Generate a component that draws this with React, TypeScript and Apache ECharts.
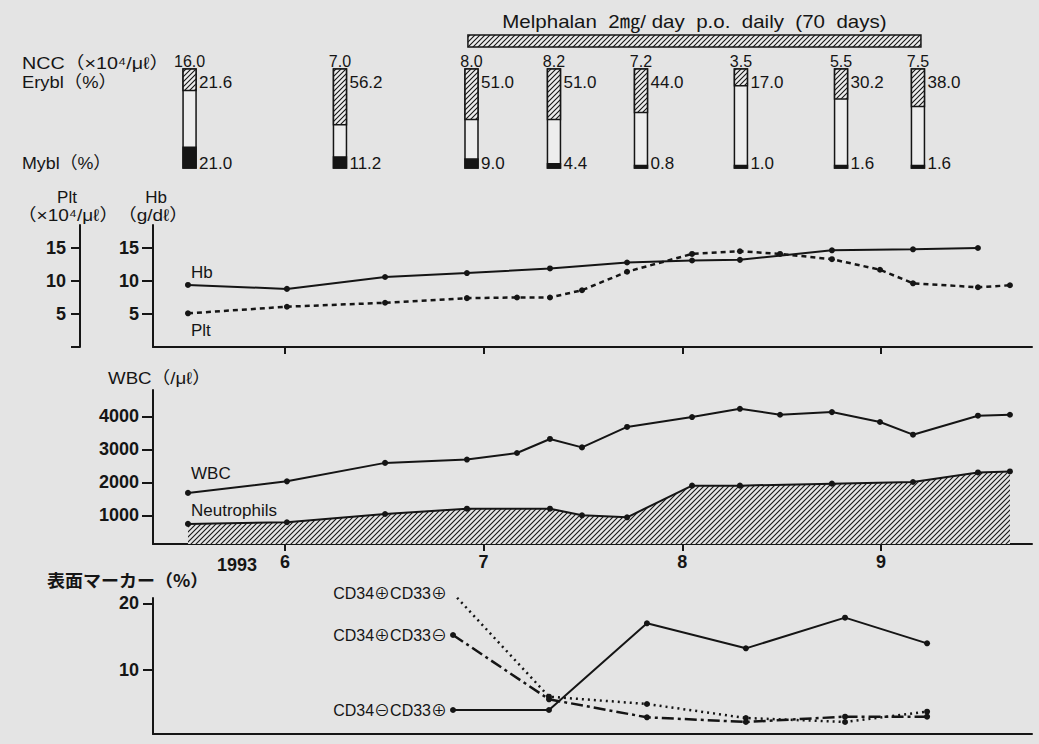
import { useEffect, useRef } from "react";
import * as echarts from "echarts";

// ---- data (x positions in fractional months of 1993) ----
const visitMonths = [5.512, 6.01, 6.504, 6.916, 7.168, 7.334, 7.495, 7.722, 8.049, 8.29, 8.492, 8.753, 8.995, 9.161, 9.488, 9.649];
const hb = [9.4, 8.8, 10.6, 11.2, null, 11.9, null, 12.8, 13.1, 13.2, null, 14.65, null, 14.8, 15.0, null];
const plt = [5.1, 6.1, 6.7, 7.4, 7.5, 7.5, 8.6, 11.4, 14.1, 14.5, 14.1, 13.3, 11.7, 9.65, 9.05, 9.35];
const wbc = [1680, 2030, 2590, 2690, 2890, 3315, 3060, 3680, 3980, 4230, 4050, 4130, 3830, 3445, 4020, 4050];
const neutrophils = [740, 790, 1040, 1200, null, 1200, 1000, 940, 1900, 1900, null, 1960, null, 2010, 2300, 2330];

const marrowMonths = [5.52, 6.277, 6.939, 7.354, 7.792, 8.295, 8.799, 9.186];
const ncc = [16.0, 7.0, 8.0, 8.2, 7.2, 3.5, 5.5, 7.5];
const erybl = [21.6, 56.2, 51.0, 51.0, 44.0, 17.0, 30.2, 38.0];
const mybl = [21.0, 11.2, 9.0, 4.4, 0.8, 1.0, 1.6, 1.6];

const markerMonths = [6.846, 7.329, 7.822, 8.32, 8.819, 9.232];
const cd34pCd33p = [21.5, 6.0, 4.9, 2.8, 2.2, 3.75];
const cd34pCd33n = [15.25, 5.6, 2.9, 2.2, 3.0, 3.0];
const cd34nCd33p = [4.0, 4.0, 17.0, 13.25, 17.85, 14.0];

const melphalanStart = 6.921;
const melphalanEnd = 9.201;
const melphalanLabel = "Melphalan  2㎎/ day  p.o.  daily  (70  days)";

const monthTicks = [6, 7, 8, 9];
const hbTicks = [5, 10, 15];
const pltTicks = [0, 5, 10, 15];
const wbcTicks = [1000, 2000, 3000, 4000];
const markerTicks = [10, 20];

const X_MIN = 5.336;
const X_MAX = 9.76;
const INK = "#151515";
const BG = "#e4e4e4";
const FONT = "'Liberation Sans', Arial, 'Noto Sans CJK JP', sans-serif";

function makeHatch(bg: string, size: number, lw: number) {
  const c = document.createElement("canvas");
  c.width = size;
  c.height = size;
  const ctx = c.getContext("2d")!;
  ctx.fillStyle = bg;
  ctx.fillRect(0, 0, size, size);
  ctx.strokeStyle = INK;
  ctx.lineWidth = lw;
  ctx.beginPath();
  ctx.moveTo(-1, size + 1);
  ctx.lineTo(size + 1, -1);
  ctx.moveTo(-size / 2 - 1, size / 2 + 1);
  ctx.lineTo(size / 2 + 1, -size / 2 - 1);
  ctx.moveTo(size / 2 - 1, size * 1.5 + 1);
  ctx.lineTo(size * 1.5 + 1, size / 2 - 1);
  ctx.stroke();
  return { image: c, repeat: "repeat", imageWidth: size, imageHeight: size } as any;
}

function pairs(xs: number[], ys: (number | null)[]) {
  const out: number[][] = [];
  xs.forEach((x, i) => {
    const v = ys[i];
    if (v != null) out.push([x, v]);
  });
  return out;
}

export default function App() {
  const ref = useRef<HTMLDivElement>(null);
  useEffect(() => {
    if (!ref.current) return;
    const chart = echarts.init(ref.current, undefined, { renderer: "svg" });
    const hatchBar = makeHatch("#ececec", 5, 1.1);
    const hatchArea = makeHatch(BG, 5, 1.1);

    const gridBase = { left: 153, right: 7 };
    const hiddenX = (gi: number) => ({ type: "value", gridIndex: gi, min: X_MIN, max: X_MAX, show: false });
    const lineX = (gi: number, ticks: boolean, labels: boolean) => ({
      type: "value",
      gridIndex: gi,
      min: X_MIN,
      max: X_MAX,
      axisLine: { show: true, onZero: false, lineStyle: { color: INK, width: 2 } },
      axisTick: { show: ticks, customValues: monthTicks, length: 7, lineStyle: { color: INK, width: 2 } },
      axisLabel: {
        show: labels,
        customValues: monthTicks,
        formatter: (v: number) => String(Math.round(v)),
        fontSize: 18,
        fontWeight: "bold",
        fontFamily: FONT,
        color: INK,
        margin: 9,
      },
      splitLine: { show: false },
    });
    const yAx = (gi: number, min: number, max: number, ticks: number[], labels: number[], offset = 0, tickLen = 11) => ({
      type: "value",
      gridIndex: gi,
      min,
      max,
      position: "left",
      offset,
      axisLine: { show: true, onZero: false, lineStyle: { color: INK, width: 2 } },
      axisTick: { show: true, customValues: ticks, length: tickLen, lineStyle: { color: INK, width: 2 } },
      axisLabel: {
        customValues: labels,
        formatter: (v: number) => String(v),
        fontSize: 18,
        fontWeight: "bold",
        fontFamily: FONT,
        color: INK,
        margin: 14,
      },
      splitLine: { show: false },
    });

    const txt = (text: string, x: number, y: number, size = 17, align = "left", sx = 1, extra: any = {}) => ({
      type: "text",
      x,
      y,
      scaleX: sx,
      style: { text, x: 0, y: 0, fontSize: size, fontFamily: FONT, fill: INK, align, verticalAlign: "middle", ...extra },
    });

    const dotLine = (name: string, data: number[][], xi: number, yi: number, type: any, width = 2, size = 6) => ({
      name,
      type: "line",
      xAxisIndex: xi,
      yAxisIndex: yi,
      data,
      symbol: "circle",
      symbolSize: size,
      itemStyle: { color: INK },
      lineStyle: { color: INK, width, type },
      z: 3,
    });

    chart.setOption({
      animation: false,
      backgroundColor: BG,
      grid: [
        { ...gridBase, top: 35, height: 12 },
        { ...gridBase, top: 69, height: 99 },
        { ...gridBase, top: 225, height: 122 },
        { ...gridBase, top: 390, height: 154 },
        { ...gridBase, top: 598, height: 136 },
      ],
      xAxis: [hiddenX(0), hiddenX(1), lineX(2, true, false), lineX(3, true, true), lineX(4, false, false)],
      yAxis: [
        { type: "value", gridIndex: 0, min: 0, max: 1, show: false },
        { type: "value", gridIndex: 1, min: 0, max: 100, show: false },
        yAx(2, 0, 18.48, hbTicks, hbTicks),
        yAx(2, 0, 18.48, pltTicks, hbTicks, 73, 9),
        yAx(3, 130, 4800, wbcTicks, wbcTicks),
        yAx(4, 0.4, 20.8, markerTicks, markerTicks, 0, 10),
      ],
      graphic: [
        txt("NCC（×10⁴/μℓ）", 22, 63, 17, "left", 1.16),
        txt("Erybl（%）", 22, 82, 17, "left", 1.08),
        txt("Mybl（%）", 22, 163, 17, "left", 1.05),
        txt("Plt", 67, 197, 17, "center"),
        txt("（×10⁴/μℓ）", 68, 215, 17, "center", 1.12),
        txt("Hb", 156, 197, 17, "center"),
        txt("（g/dℓ）", 153, 215, 17, "center", 1.12),
        txt("Hb", 191, 272, 17),
        txt("Plt", 191, 330, 17),
        txt("WBC（/μℓ）", 108, 378, 17, "left", 1.1),
        txt("WBC", 191, 473, 17),
        txt("Neutrophils", 191, 510, 17),
        txt("1993", 217, 565, 18, "left", 1, { fontWeight: "bold" }),
        txt("表面マーカー（%）", 47, 580, 17, "left", 1.06, { fontFamily: "'Noto Sans CJK JP', sans-serif", fontWeight: "bold" }),
        txt("CD34⊕CD33⊕", 447, 593, 16, "right"),
        txt("CD34⊕CD33⊖", 447, 635, 16, "right"),
        txt("CD34⊖CD33⊕", 447, 710, 16, "right"),
      ],
      series: [
        {
          type: "custom",
          xAxisIndex: 0,
          yAxisIndex: 0,
          data: [[melphalanStart, melphalanEnd]],
          renderItem: (_p: any, api: any) => {
            const a = api.coord([api.value(0), 1]);
            const b = api.coord([api.value(1), 0]);
            return {
              type: "group",
              children: [
                {
                  type: "rect",
                  shape: { x: a[0], y: a[1], width: b[0] - a[0], height: b[1] - a[1] },
                  style: { fill: hatchBar, stroke: INK, lineWidth: 1.5 },
                },
                {
                  type: "text",
                  x: (a[0] + b[0]) / 2,
                  y: a[1] - 4,
                  scaleX: 1.14,
                  style: {
                    text: melphalanLabel,
                    x: 0,
                    y: 0,
                    align: "center",
                    verticalAlign: "bottom",
                    fontSize: 18,
                    fontFamily: FONT,
                    fill: INK,
                  },
                },
              ],
            };
          },
        },
        {
          type: "custom",
          xAxisIndex: 1,
          yAxisIndex: 1,
          data: marrowMonths.map((m, i) => [m, ncc[i], erybl[i], mybl[i]]),
          renderItem: (_p: any, api: any) => {
            const x = api.value(0);
            const n = api.value(1);
            const e = api.value(2);
            const m = api.value(3);
            const top = api.coord([x, 100]);
            const bot = api.coord([x, 0]);
            const w = 13;
            const cx = top[0];
            const l = cx - w / 2;
            const h = bot[1] - top[1];
            const eh = (h * e) / 100;
            const mh = Math.max((h * m) / 100, 2.5);
            const f = { fontFamily: FONT, fill: INK };
            return {
              type: "group",
              children: [
                { type: "rect", shape: { x: l, y: top[1], width: w, height: h }, style: { fill: "#ededed", stroke: INK, lineWidth: 1.5 } },
                { type: "rect", shape: { x: l, y: top[1], width: w, height: eh }, style: { fill: hatchBar, stroke: INK, lineWidth: 1.5 } },
                { type: "rect", shape: { x: l, y: bot[1] - mh, width: w, height: mh }, style: { fill: INK, stroke: INK, lineWidth: 1.5 } },
                { type: "text", style: { text: n.toFixed(1), x: cx, y: top[1] - 8, align: "center", verticalAlign: "middle", fontSize: 16, ...f } },
                { type: "text", style: { text: e.toFixed(1), x: l + w + 3, y: top[1] + 13, align: "left", verticalAlign: "middle", fontSize: 17, ...f } },
                { type: "text", style: { text: m.toFixed(1), x: l + w + 3, y: bot[1] - 5, align: "left", verticalAlign: "middle", fontSize: 17, ...f } },
              ],
            };
          },
        },
        dotLine("Hb", pairs(visitMonths, hb), 2, 2, "solid", 2),
        dotLine("Plt", pairs(visitMonths, plt), 2, 3, [5, 4], 2.5),
        dotLine("WBC", pairs(visitMonths, wbc), 3, 4, "solid", 2),
        {
          ...dotLine("Neutrophils", pairs(visitMonths, neutrophils), 3, 4, "solid", 2),
          areaStyle: { color: hatchArea, opacity: 1, origin: "start" },
          z: 2,
        },
        dotLine("CD34+CD33+", pairs(markerMonths, cd34pCd33p), 4, 5, [2, 4], 2.5),
        dotLine("CD34+CD33-", pairs(markerMonths, cd34pCd33n), 4, 5, [12, 4, 3, 4], 2.5),
        dotLine("CD34-CD33+", pairs(markerMonths, cd34nCd33p), 4, 5, "solid", 2),
      ],
    });
    return () => chart.dispose();
  }, []);
  return <div ref={ref} style={{ position: "fixed", left: 0, top: 0, width: 1039, height: 744 }} />;
}
